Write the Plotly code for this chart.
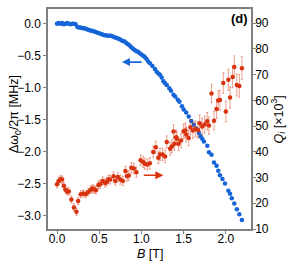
import plotly.graph_objects as go

# Frequency shift (left axis)
B_f = [0.00, 0.02, 0.04, 0.06, 0.08, 0.10, 0.12, 0.14, 0.16, 0.18, 0.20, 0.22,
       0.24, 0.26, 0.28, 0.30, 0.32, 0.34, 0.36, 0.38, 0.40, 0.42, 0.44, 0.46,
       0.48, 0.50, 0.52, 0.54, 0.56, 0.58, 0.60, 0.62, 0.64, 0.66, 0.68, 0.70,
       0.72, 0.74, 0.76, 0.78, 0.80, 0.82, 0.84, 0.86, 0.88, 0.90, 0.92, 0.94,
       0.96, 0.98, 1.00, 1.02, 1.04, 1.06, 1.08, 1.10,
       1.13, 1.16, 1.18, 1.20, 1.22, 1.24, 1.26, 1.28, 1.30, 1.33, 1.35, 1.38,
       1.40, 1.43, 1.45, 1.48, 1.50, 1.53, 1.56, 1.59, 1.62, 1.65, 1.68, 1.70,
       1.72, 1.74, 1.78, 1.80, 1.83, 1.86, 1.89, 1.91, 1.93, 1.96, 1.99, 2.03,
       2.05, 2.07, 2.10, 2.13, 2.16, 2.19]
dw = [0.00, 0.01, 0.00, 0.01, -0.01, 0.00, 0.01, 0.00, -0.01, 0.00, 0.00, -0.01,
      -0.05, -0.06, -0.06, -0.07, -0.07, -0.08, -0.09, -0.10, -0.11, -0.11, -0.12, -0.13,
      -0.14, -0.15, -0.16, -0.17, -0.18, -0.18, -0.19, -0.19, -0.19, -0.20, -0.21, -0.22,
      -0.23, -0.24, -0.26, -0.27, -0.28, -0.30, -0.32, -0.34, -0.37, -0.39, -0.41, -0.43,
      -0.44, -0.46, -0.48, -0.50, -0.52, -0.55, -0.59, -0.62,
      -0.66, -0.71, -0.75, -0.78, -0.80, -0.84, -0.90, -0.93, -0.96, -1.01, -1.05, -1.11,
      -1.14, -1.19, -1.22, -1.29, -1.34, -1.39, -1.45, -1.52, -1.58, -1.64, -1.71, -1.76,
      -1.80, -1.84, -1.91, -2.01, -2.05, -2.17, -2.22, -2.30, -2.37, -2.43, -2.50, -2.61,
      -2.66, -2.73, -2.81, -2.90, -2.98, -3.07]

# Internal quality factor (right axis, x10^3)
B_q = [0.00, 0.02, 0.04, 0.06, 0.08, 0.10, 0.12, 0.14, 0.17, 0.20,
       0.23, 0.25, 0.28, 0.31, 0.34, 0.37, 0.40, 0.42, 0.44, 0.46,
       0.49, 0.51, 0.54, 0.57, 0.59, 0.61, 0.63, 0.67, 0.69, 0.72,
       0.75, 0.78, 0.81, 0.83, 0.85, 0.88, 0.91, 0.94, 0.99, 1.02,
       1.04, 1.07, 1.10, 1.14, 1.17, 1.20, 1.22, 1.25, 1.28, 1.30,
       1.34, 1.36, 1.38, 1.39, 1.41, 1.42, 1.44, 1.47, 1.50, 1.52,
       1.53, 1.56, 1.58, 1.61, 1.64, 1.67, 1.69, 1.72, 1.75, 1.78,
       1.80, 1.83, 1.86, 1.89, 1.91, 1.93, 1.97, 2.00, 2.03, 2.05,
       2.08, 2.10, 2.13, 2.16, 2.19]
Qi = [27.4, 28.7, 29.3, 29.2, 26.8, 25.3, 24.6, 24.6, 21.5, 18.4,
      16.7, 20.9, 23.5, 23.8, 23.5, 24.4, 25.3, 25.7, 25.4, 25.1,
      27.1, 27.4, 28.7, 27.9, 28.4, 29.2, 29.2, 30.5, 28.7, 30.2,
      29.2, 28.7, 32.5, 30.5, 30.8, 33.8, 33.5, 32.1, 36.7, 36.0,
      35.4, 35.1, 35.6, 39.9, 41.8, 37.7, 39.0, 39.0, 38.2, 43.8,
      41.2, 42.1, 47.9, 43.1, 45.7, 45.1, 43.1, 44.4, 48.0, 48.3,
      46.7, 45.4, 49.5, 48.3, 48.9, 48.5, 51.1, 49.8, 50.6, 51.9,
      50.2, 62.7, 52.1, 56.6, 59.9, 60.1, 66.7, 55.7, 68.0, 61.1,
      69.1, 73.0, 66.0, 65.6, 72.5]
Qi_err = [1.4, 1.4, 1.4, 1.4, 1.4, 1.4, 1.4, 1.4, 1.4, 1.4,
          1.4, 1.4, 1.4, 1.4, 1.4, 1.4, 1.5, 1.5, 1.5, 1.5,
          1.6, 1.6, 1.6, 1.6, 1.6, 1.7, 1.7, 1.7, 1.7, 1.8,
          1.8, 1.8, 1.9, 1.9, 1.9, 2.0, 2.0, 2.0, 2.1, 2.1,
          2.1, 2.1, 2.2, 2.2, 2.3, 2.3, 2.3, 2.4, 2.4, 2.4,
          2.5, 2.5, 2.6, 2.6, 2.6, 2.7, 2.7, 2.8, 2.8, 2.9,
          2.9, 3.0, 3.0, 3.1, 3.1, 3.2, 3.2, 3.3, 3.3, 3.4,
          3.4, 3.6, 3.6, 3.7, 3.8, 3.8, 4.0, 4.0, 4.1, 4.1,
          4.2, 4.3, 4.3, 4.4, 4.5]

BLUE = "#1565d8"
RED = "#d8320e"
AXC = "#808080"
FONT = "Liberation Sans, Arial, sans-serif"

fig = go.Figure()
fig.add_trace(go.Scatter(
    x=B_f, y=dw, mode="markers", yaxis="y",
    marker=dict(color=BLUE, size=4.5, line=dict(width=0)),
    showlegend=False))
fig.add_trace(go.Scatter(
    x=B_q, y=Qi, mode="markers", yaxis="y2",
    error_y=dict(type="data", array=Qi_err, color="rgba(216,50,14,0.45)",
                 thickness=1, width=1),
    marker=dict(color=RED, size=4.5, line=dict(width=0)),
    showlegend=False))

axis_common = dict(showline=True, linecolor=AXC, linewidth=1.5, ticks="outside",
                   ticklen=3, tickcolor=AXC, showgrid=False, zeroline=False,
                   tickfont=dict(size=12, color="black", family=FONT))

fig.update_layout(
    width=291, height=262,
    margin=dict(l=48, r=40, t=7, b=33),
    paper_bgcolor="white", plot_bgcolor="white",
    font=dict(family=FONT, color="black", size=12),
    xaxis=dict(range=[-0.107, 2.298], tickvals=[0, 0.5, 1.0, 1.5, 2.0],
               ticktext=["0.0", "0.5", "1.0", "1.5", "2.0"], mirror=True,
               ticklabelstandoff=-5, **axis_common),
    yaxis=dict(range=[-3.21, 0.23], tickvals=[0, -0.5, -1.0, -1.5, -2.0, -2.5, -3.0],
               ticktext=["0.0", "−0.5", "−1.0", "−1.5", "−2.0", "−2.5", "−3.0"],
               **axis_common),
    yaxis2=dict(range=[10, 95.5], tickvals=[10, 20, 30, 40, 50, 60, 70, 80, 90],
                overlaying="y", side="right", ticklabelstandoff=-3, **axis_common),
)

# axis titles
fig.add_annotation(x=0.5, y=-0.112, xref="paper", yref="paper", xanchor="center",
                   yanchor="middle", showarrow=False, text="<i>B</i> [T]",
                   font=dict(size=12.5, color="black", family=FONT))
fig.add_annotation(x=-0.165, y=0.52, xref="paper", yref="paper", xanchor="center",
                   yanchor="middle", showarrow=False, textangle=-90,
                   text="Δω<sub>0</sub>/2π [MHz]",
                   font=dict(size=12.5, color="black", family=FONT))
fig.add_annotation(x=1.135, y=0.50, xref="paper", yref="paper", xanchor="center",
                   yanchor="middle", showarrow=False, textangle=-90,
                   text="<i>Q</i><sub><i>i</i></sub> [×10<sup>3</sup>]",
                   font=dict(size=12.5, color="black", family=FONT))

fig.add_annotation(x=0.77, y=-0.60, ax=1.02, ay=-0.60, xref="x", yref="y",
                   axref="x", ayref="y", showarrow=True, arrowhead=2,
                   arrowsize=1, arrowwidth=1.6, arrowcolor=BLUE, text="")
fig.add_annotation(x=1.26, y=30.9, ax=1.01, ay=30.9, xref="x", yref="y2",
                   axref="x", ayref="y2", showarrow=True, arrowhead=2,
                   arrowsize=1, arrowwidth=1.6, arrowcolor=RED, text="")
fig.add_annotation(x=0.995, y=0.955, xref="paper", yref="paper", xanchor="right",
                   yanchor="middle", showarrow=False, text="<b>(d)</b>",
                   font=dict(size=13, color="black", family=FONT))

fig.write_html("out.html", config={"displayModeBar": False},
               post_script="document.body.style.margin='0';")
